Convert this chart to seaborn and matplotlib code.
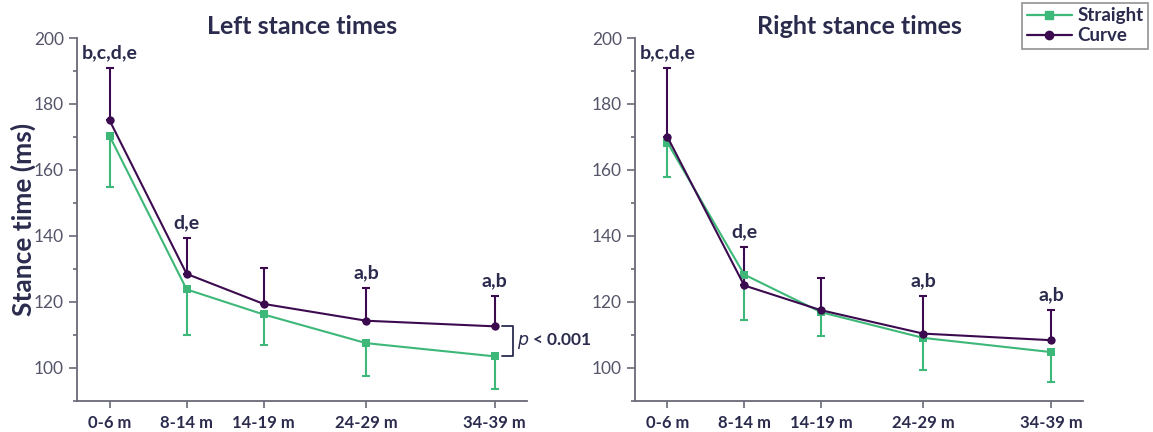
import numpy as np
import pandas as pd
import matplotlib
matplotlib.use('Agg')
import matplotlib.pyplot as plt
import seaborn as sns
from matplotlib.ticker import MultipleLocator
from matplotlib.lines import Line2D

# Data
periods = ['0-6 m', '8-14 m', '14-19 m', '24-29 m', '34-39 m']
xpos = [0, 3, 6, 10, 15]

left_straight = [170.3, 123.8, 116.2, 107.5, 103.5]
left_straight_sd = [15.4, 13.7, 9.4, 9.9, 10.0]
left_curve = [175.0, 128.5, 119.4, 114.3, 112.6]
left_curve_sd = [15.9, 10.8, 11.0, 9.8, 9.1]

right_straight = [168.3, 128.3, 116.9, 109.1, 104.8]
right_straight_sd = [10.4, 13.7, 7.3, 9.8, 9.0]
right_curve = [170.0, 125.0, 117.5, 110.4, 108.4]
right_curve_sd = [20.9, 11.6, 9.8, 11.3, 9.1]

left_letters = ['b,c,d,e', 'd,e', '', 'a,b', 'a,b']
right_letters = ['b,c,d,e', 'd,e', '', 'a,b', 'a,b']

GREEN = '#3DB878'
PURPLE = '#3B0A4F'
NAVY = '#2B2B4E'
SPINE = '#6A6A78'

sns.set_style('ticks')
plt.rcParams['font.family'] = ['Lato', 'DejaVu Sans']

fig = plt.figure(figsize=(11.53, 4.32), dpi=100)
ax_l = fig.add_axes([0.0668, 0.072, 0.390, 0.840])
ax_r = fig.add_axes([0.5507, 0.072, 0.3886, 0.840])


def draw(ax, straight, s_sd, curve, c_sd, letters, title):
    df = pd.DataFrame({
        'x': xpos * 2,
        'y': straight + curve,
        'cond': ['Straight'] * 5 + ['Curve'] * 5,
    })
    # error bars: straight downward, curve upward
    ax.errorbar(xpos, straight, yerr=[s_sd, [0] * 5], fmt='none', ecolor=GREEN,
                elinewidth=1.5, capsize=3, capthick=1.5, zorder=2)
    ax.errorbar(xpos, curve, yerr=[[0] * 5, c_sd], fmt='none', ecolor=PURPLE,
                elinewidth=1.5, capsize=3, capthick=1.5, zorder=2)
    sns.lineplot(data=df, x='x', y='y', hue='cond', style='cond',
                 palette={'Straight': GREEN, 'Curve': PURPLE},
                 markers={'Straight': 's', 'Curve': 'o'}, dashes=False,
                 markersize=6, markeredgewidth=0, linewidth=1.5,
                 ax=ax, legend=False, zorder=3)
    for xi, top, lab in zip(xpos, np.array(curve) + np.array(c_sd), letters):
        if lab:
            ax.annotate(lab, (xi, top), xytext=(0, 5), textcoords='offset points',
                        ha='center', va='bottom', fontsize=14, fontweight='bold',
                        color=NAVY, annotation_clip=False)
    ax.set_xlim(-1.27, 16.25)
    ax.set_ylim(90, 200)
    ax.set_xticks(xpos)
    ax.set_xticklabels(periods, fontsize=12, fontweight='bold', color=NAVY)
    ax.set_yticks([100, 120, 140, 160, 180, 200])
    ax.yaxis.set_minor_locator(MultipleLocator(10))
    ax.tick_params(axis='y', labelsize=12.5, labelcolor='#55556A', color=SPINE,
                   length=6, width=1.2)
    ax.tick_params(axis='y', which='minor', color=SPINE, length=3, width=1.2)
    ax.tick_params(axis='x', color=SPINE, length=5, width=1.2, pad=5)
    for s in ['top', 'right']:
        ax.spines[s].set_visible(False)
    for s in ['left', 'bottom']:
        ax.spines[s].set_color(SPINE)
        ax.spines[s].set_linewidth(1.3)
    ax.set_xlabel('')
    ax.set_ylabel('')
    ax.set_title(title, fontsize=18, fontweight='bold', color=NAVY, pad=3)


draw(ax_l, left_straight, left_straight_sd, left_curve, left_curve_sd,
     left_letters, 'Left stance times')
draw(ax_r, right_straight, right_straight_sd, right_curve, right_curve_sd,
     right_letters, 'Right stance times')

ax_l.set_ylabel('Stance time (ms)', fontsize=19, fontweight='bold', color=NAVY)
ax_l.yaxis.set_label_coords(-0.092, 0.5)

# significance bracket
bx0, bx1 = 15.3, 15.7
ax_l.plot([bx0, bx1, bx1, bx0], [left_curve[-1], left_curve[-1],
          left_straight[-1], left_straight[-1]], color=NAVY, lw=1.3,
          clip_on=False)
ax_l.text(15.88, (left_curve[-1] + left_straight[-1]) / 2, '$p$ < 0.001',
          fontsize=12.5, fontweight='bold', color=NAVY, va='center', ha='left',
          clip_on=False)

# legend
handles = [Line2D([], [], color=GREEN, marker='s', markersize=5.5, lw=1.6),
           Line2D([], [], color=PURPLE, marker='o', markersize=6, lw=1.6)]
leg = fig.legend(handles, ['Straight', 'Curve'], loc='upper right',
                 bbox_to_anchor=(0.996, 0.994), frameon=True, fancybox=False,
                 edgecolor='#777777', fontsize=13.5, handlelength=2.4,
                 handletextpad=0.3, borderpad=0.25, labelspacing=0.15,
                 borderaxespad=0)
leg.get_frame().set_linewidth(1.2)
for t in leg.get_texts():
    t.set_fontweight('bold')
    t.set_color(NAVY)

fig.savefig('out.png', dpi=100, facecolor='white')
